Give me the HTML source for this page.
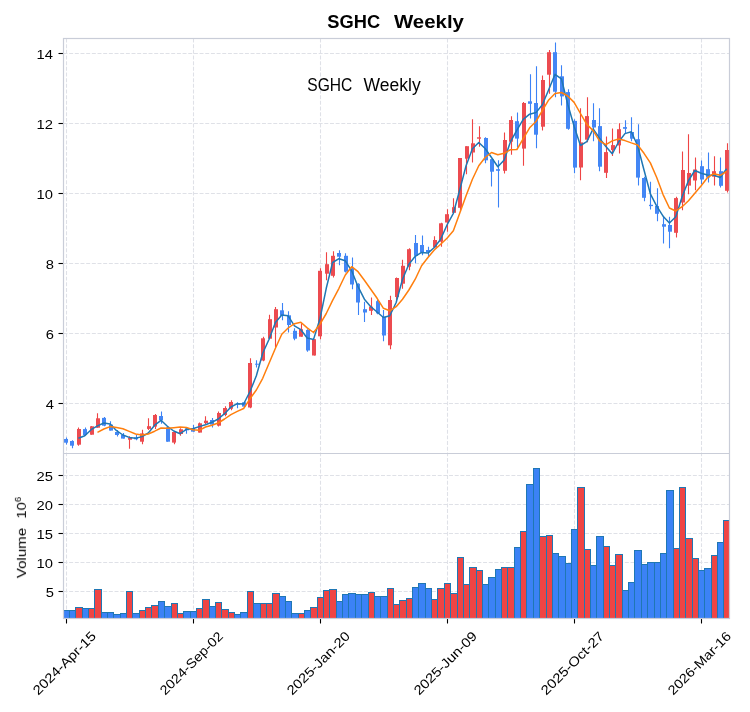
<!DOCTYPE html>
<html><head><meta charset="utf-8"><title>SGHC Weekly</title>
<style>html,body{margin:0;padding:0;background:#fff}svg{display:block}text{font-family:"Liberation Sans",sans-serif;fill:#000}.tx{opacity:0.999}</style></head>
<body>
<svg width="750" height="712" viewBox="0 0 750 712">
<rect x="0" y="0" width="750" height="712" fill="#ffffff"/>
<defs><clipPath id="cm"><rect x="63.5" y="38.5" width="666" height="415"/></clipPath><clipPath id="cv"><rect x="63.5" y="453.5" width="666" height="165"/></clipPath></defs>
<g stroke="#dfe1e7" stroke-width="1.07" stroke-dasharray="3.96 1.71" fill="none"><line x1="63.5" y1="53.5" x2="729.5" y2="53.5"/><line x1="63.5" y1="123.5" x2="729.5" y2="123.5"/><line x1="63.5" y1="193.5" x2="729.5" y2="193.5"/><line x1="63.5" y1="263.5" x2="729.5" y2="263.5"/><line x1="63.5" y1="333.5" x2="729.5" y2="333.5"/><line x1="63.5" y1="403.5" x2="729.5" y2="403.5"/><line x1="63.5" y1="475.5" x2="729.5" y2="475.5"/><line x1="63.5" y1="504.5" x2="729.5" y2="504.5"/><line x1="63.5" y1="533.5" x2="729.5" y2="533.5"/><line x1="63.5" y1="562.5" x2="729.5" y2="562.5"/><line x1="63.5" y1="591.5" x2="729.5" y2="591.5"/><line x1="66.5" y1="38.5" x2="66.5" y2="618.5"/><line x1="193.5" y1="38.5" x2="193.5" y2="618.5"/><line x1="320.5" y1="38.5" x2="320.5" y2="618.5"/><line x1="447.5" y1="38.5" x2="447.5" y2="618.5"/><line x1="574.5" y1="38.5" x2="574.5" y2="618.5"/><line x1="701.5" y1="38.5" x2="701.5" y2="618.5"/></g>
<g clip-path="url(#cv)" stroke="#1f77b4" stroke-width="1"><rect x="63.5" y="610.5" width="6.0" height="11.0" fill="#3b82f6"/><rect x="69.5" y="610.5" width="6.0" height="11.0" fill="#3b82f6"/><rect x="75.5" y="607.5" width="7.0" height="14.0" fill="#ef4444"/><rect x="82.5" y="608.5" width="6.0" height="13.0" fill="#3b82f6"/><rect x="88.5" y="608.5" width="6.0" height="13.0" fill="#ef4444"/><rect x="94.5" y="589.5" width="7.0" height="32.0" fill="#ef4444"/><rect x="101.5" y="612.5" width="6.0" height="9.0" fill="#3b82f6"/><rect x="107.5" y="612.5" width="6.0" height="9.0" fill="#3b82f6"/><rect x="113.5" y="614.5" width="7.0" height="7.0" fill="#3b82f6"/><rect x="120.5" y="613.5" width="6.0" height="8.0" fill="#3b82f6"/><rect x="126.5" y="591.5" width="6.0" height="30.0" fill="#ef4444"/><rect x="132.5" y="613.5" width="7.0" height="8.0" fill="#3b82f6"/><rect x="139.5" y="610.5" width="6.0" height="11.0" fill="#ef4444"/><rect x="145.5" y="607.5" width="6.0" height="14.0" fill="#ef4444"/><rect x="151.5" y="605.5" width="7.0" height="16.0" fill="#ef4444"/><rect x="158.5" y="601.5" width="6.0" height="20.0" fill="#3b82f6"/><rect x="164.5" y="606.5" width="7.0" height="15.0" fill="#3b82f6"/><rect x="171.5" y="603.5" width="6.0" height="18.0" fill="#ef4444"/><rect x="177.5" y="613.5" width="6.0" height="8.0" fill="#ef4444"/><rect x="183.5" y="611.5" width="7.0" height="10.0" fill="#3b82f6"/><rect x="190.5" y="611.5" width="6.0" height="10.0" fill="#3b82f6"/><rect x="196.5" y="608.5" width="6.0" height="13.0" fill="#ef4444"/><rect x="202.5" y="599.5" width="7.0" height="22.0" fill="#ef4444"/><rect x="209.5" y="606.5" width="6.0" height="15.0" fill="#3b82f6"/><rect x="215.5" y="602.5" width="6.0" height="19.0" fill="#ef4444"/><rect x="221.5" y="609.5" width="7.0" height="12.0" fill="#ef4444"/><rect x="228.5" y="612.5" width="6.0" height="9.0" fill="#ef4444"/><rect x="234.5" y="614.5" width="6.0" height="7.0" fill="#3b82f6"/><rect x="240.5" y="612.5" width="7.0" height="9.0" fill="#3b82f6"/><rect x="247.5" y="591.5" width="6.0" height="30.0" fill="#ef4444"/><rect x="253.5" y="603.5" width="7.0" height="18.0" fill="#3b82f6"/><rect x="260.5" y="603.5" width="6.0" height="18.0" fill="#ef4444"/><rect x="266.5" y="603.5" width="6.0" height="18.0" fill="#ef4444"/><rect x="272.5" y="593.5" width="7.0" height="28.0" fill="#ef4444"/><rect x="279.5" y="596.5" width="6.0" height="25.0" fill="#3b82f6"/><rect x="285.5" y="601.5" width="6.0" height="20.0" fill="#3b82f6"/><rect x="291.5" y="613.5" width="7.0" height="8.0" fill="#3b82f6"/><rect x="298.5" y="613.5" width="6.0" height="8.0" fill="#ef4444"/><rect x="304.5" y="610.5" width="6.0" height="11.0" fill="#3b82f6"/><rect x="310.5" y="607.5" width="7.0" height="14.0" fill="#ef4444"/><rect x="317.5" y="597.5" width="6.0" height="24.0" fill="#ef4444"/><rect x="323.5" y="590.5" width="6.0" height="31.0" fill="#ef4444"/><rect x="329.5" y="589.5" width="7.0" height="32.0" fill="#ef4444"/><rect x="336.5" y="601.5" width="6.0" height="20.0" fill="#3b82f6"/><rect x="342.5" y="594.5" width="6.0" height="27.0" fill="#3b82f6"/><rect x="348.5" y="593.5" width="7.0" height="28.0" fill="#3b82f6"/><rect x="355.5" y="594.5" width="6.0" height="27.0" fill="#3b82f6"/><rect x="361.5" y="594.5" width="7.0" height="27.0" fill="#3b82f6"/><rect x="368.5" y="592.5" width="6.0" height="29.0" fill="#ef4444"/><rect x="374.5" y="596.5" width="6.0" height="25.0" fill="#3b82f6"/><rect x="380.5" y="596.5" width="7.0" height="25.0" fill="#3b82f6"/><rect x="387.5" y="588.5" width="6.0" height="33.0" fill="#ef4444"/><rect x="393.5" y="604.5" width="6.0" height="17.0" fill="#ef4444"/><rect x="399.5" y="600.5" width="7.0" height="21.0" fill="#ef4444"/><rect x="406.5" y="598.5" width="6.0" height="23.0" fill="#ef4444"/><rect x="412.5" y="587.5" width="6.0" height="34.0" fill="#3b82f6"/><rect x="418.5" y="583.5" width="7.0" height="38.0" fill="#3b82f6"/><rect x="425.5" y="588.5" width="6.0" height="33.0" fill="#3b82f6"/><rect x="431.5" y="599.5" width="6.0" height="22.0" fill="#ef4444"/><rect x="437.5" y="588.5" width="7.0" height="33.0" fill="#ef4444"/><rect x="444.5" y="583.5" width="6.0" height="38.0" fill="#ef4444"/><rect x="450.5" y="593.5" width="7.0" height="28.0" fill="#ef4444"/><rect x="457.5" y="557.5" width="6.0" height="64.0" fill="#ef4444"/><rect x="463.5" y="584.5" width="6.0" height="37.0" fill="#ef4444"/><rect x="469.5" y="567.5" width="7.0" height="54.0" fill="#ef4444"/><rect x="476.5" y="570.5" width="6.0" height="51.0" fill="#ef4444"/><rect x="482.5" y="584.5" width="6.0" height="37.0" fill="#3b82f6"/><rect x="488.5" y="577.5" width="7.0" height="44.0" fill="#3b82f6"/><rect x="495.5" y="569.5" width="6.0" height="52.0" fill="#3b82f6"/><rect x="501.5" y="567.5" width="6.0" height="54.0" fill="#ef4444"/><rect x="507.5" y="567.5" width="7.0" height="54.0" fill="#ef4444"/><rect x="514.5" y="547.5" width="6.0" height="74.0" fill="#3b82f6"/><rect x="520.5" y="531.5" width="6.0" height="90.0" fill="#ef4444"/><rect x="526.5" y="484.5" width="7.0" height="137.0" fill="#3b82f6"/><rect x="533.5" y="468.5" width="6.0" height="153.0" fill="#3b82f6"/><rect x="539.5" y="536.5" width="7.0" height="85.0" fill="#ef4444"/><rect x="546.5" y="535.5" width="6.0" height="86.0" fill="#ef4444"/><rect x="552.5" y="553.5" width="6.0" height="68.0" fill="#3b82f6"/><rect x="558.5" y="556.5" width="7.0" height="65.0" fill="#3b82f6"/><rect x="565.5" y="563.5" width="6.0" height="58.0" fill="#3b82f6"/><rect x="571.5" y="529.5" width="6.0" height="92.0" fill="#3b82f6"/><rect x="577.5" y="487.5" width="7.0" height="134.0" fill="#ef4444"/><rect x="584.5" y="549.5" width="6.0" height="72.0" fill="#ef4444"/><rect x="590.5" y="565.5" width="6.0" height="56.0" fill="#3b82f6"/><rect x="596.5" y="536.5" width="7.0" height="85.0" fill="#3b82f6"/><rect x="603.5" y="546.5" width="6.0" height="75.0" fill="#ef4444"/><rect x="609.5" y="565.5" width="6.0" height="56.0" fill="#ef4444"/><rect x="615.5" y="554.5" width="7.0" height="67.0" fill="#ef4444"/><rect x="622.5" y="590.5" width="6.0" height="31.0" fill="#3b82f6"/><rect x="628.5" y="582.5" width="6.0" height="39.0" fill="#3b82f6"/><rect x="634.5" y="550.5" width="7.0" height="71.0" fill="#3b82f6"/><rect x="641.5" y="564.5" width="6.0" height="57.0" fill="#3b82f6"/><rect x="647.5" y="562.5" width="7.0" height="59.0" fill="#3b82f6"/><rect x="654.5" y="562.5" width="6.0" height="59.0" fill="#3b82f6"/><rect x="660.5" y="553.5" width="6.0" height="68.0" fill="#3b82f6"/><rect x="666.5" y="490.5" width="7.0" height="131.0" fill="#3b82f6"/><rect x="673.5" y="548.5" width="6.0" height="73.0" fill="#ef4444"/><rect x="679.5" y="487.5" width="6.0" height="134.0" fill="#ef4444"/><rect x="685.5" y="538.5" width="7.0" height="83.0" fill="#ef4444"/><rect x="692.5" y="558.5" width="6.0" height="63.0" fill="#ef4444"/><rect x="698.5" y="570.5" width="6.0" height="51.0" fill="#3b82f6"/><rect x="704.5" y="568.5" width="7.0" height="53.0" fill="#3b82f6"/><rect x="711.5" y="555.5" width="6.0" height="66.0" fill="#ef4444"/><rect x="717.5" y="542.5" width="6.0" height="79.0" fill="#3b82f6"/><rect x="723.5" y="520.5" width="7.0" height="101.0" fill="#ef4444"/></g>
<g clip-path="url(#cm)"><g stroke-width="1.1"><line x1="66.5" y1="437.4" x2="66.5" y2="444.6" stroke="#3b82f6"/><line x1="72.5" y1="440.3" x2="72.5" y2="448.3" stroke="#3b82f6"/><line x1="78.5" y1="427.4" x2="78.5" y2="445.7" stroke="#ef4444"/><line x1="85.5" y1="427.4" x2="85.5" y2="435.7" stroke="#3b82f6"/><line x1="91.5" y1="425.9" x2="91.5" y2="434.7" stroke="#ef4444"/><line x1="97.5" y1="413.3" x2="97.5" y2="427.7" stroke="#ef4444"/><line x1="104.5" y1="417.0" x2="104.5" y2="426.3" stroke="#3b82f6"/><line x1="110.5" y1="421.3" x2="110.5" y2="430.6" stroke="#3b82f6"/><line x1="117.5" y1="430.0" x2="117.5" y2="436.6" stroke="#3b82f6"/><line x1="123.5" y1="433.0" x2="123.5" y2="438.6" stroke="#3b82f6"/><line x1="129.5" y1="436.3" x2="129.5" y2="448.7" stroke="#ef4444"/><line x1="136.5" y1="435.0" x2="136.5" y2="440.3" stroke="#3b82f6"/><line x1="142.5" y1="429.7" x2="142.5" y2="444.3" stroke="#ef4444"/><line x1="148.5" y1="418.3" x2="148.5" y2="430.0" stroke="#ef4444"/><line x1="155.5" y1="414.0" x2="155.5" y2="429.0" stroke="#ef4444"/><line x1="161.5" y1="411.4" x2="161.5" y2="423.7" stroke="#3b82f6"/><line x1="167.5" y1="427.0" x2="167.5" y2="441.7" stroke="#3b82f6"/><line x1="174.5" y1="432.0" x2="174.5" y2="444.3" stroke="#ef4444"/><line x1="180.5" y1="428.3" x2="180.5" y2="435.7" stroke="#ef4444"/><line x1="186.5" y1="428.0" x2="186.5" y2="433.7" stroke="#3b82f6"/><line x1="193.5" y1="425.0" x2="193.5" y2="431.7" stroke="#3b82f6"/><line x1="199.5" y1="422.6" x2="199.5" y2="432.6" stroke="#ef4444"/><line x1="205.5" y1="416.3" x2="205.5" y2="424.3" stroke="#ef4444"/><line x1="212.5" y1="418.0" x2="212.5" y2="427.4" stroke="#3b82f6"/><line x1="218.5" y1="411.4" x2="218.5" y2="426.6" stroke="#ef4444"/><line x1="225.5" y1="406.3" x2="225.5" y2="416.3" stroke="#ef4444"/><line x1="231.5" y1="400.3" x2="231.5" y2="410.3" stroke="#ef4444"/><line x1="237.5" y1="402.3" x2="237.5" y2="408.3" stroke="#3b82f6"/><line x1="244.5" y1="401.7" x2="244.5" y2="407.0" stroke="#3b82f6"/><line x1="250.5" y1="358.3" x2="250.5" y2="408.3" stroke="#ef4444"/><line x1="256.5" y1="360.3" x2="256.5" y2="367.5" stroke="#3b82f6"/><line x1="263.5" y1="336.7" x2="263.5" y2="361.3" stroke="#ef4444"/><line x1="269.5" y1="314.7" x2="269.5" y2="339.2" stroke="#ef4444"/><line x1="275.5" y1="307.0" x2="275.5" y2="347.5" stroke="#ef4444"/><line x1="282.5" y1="303.0" x2="282.5" y2="320.3" stroke="#3b82f6"/><line x1="288.5" y1="311.3" x2="288.5" y2="332.5" stroke="#3b82f6"/><line x1="294.5" y1="328.3" x2="294.5" y2="340.3" stroke="#3b82f6"/><line x1="301.5" y1="323.3" x2="301.5" y2="336.7" stroke="#ef4444"/><line x1="307.5" y1="329.2" x2="307.5" y2="351.7" stroke="#3b82f6"/><line x1="314.5" y1="339.2" x2="314.5" y2="355.5" stroke="#ef4444"/><line x1="320.5" y1="268.3" x2="320.5" y2="339.2" stroke="#ef4444"/><line x1="326.5" y1="252.2" x2="326.5" y2="280.3" stroke="#ef4444"/><line x1="333.5" y1="251.2" x2="333.5" y2="277.5" stroke="#ef4444"/><line x1="339.5" y1="250.3" x2="339.5" y2="265.3" stroke="#3b82f6"/><line x1="345.5" y1="253.3" x2="345.5" y2="272.5" stroke="#3b82f6"/><line x1="352.5" y1="257.5" x2="352.5" y2="289.2" stroke="#3b82f6"/><line x1="358.5" y1="283.3" x2="358.5" y2="315.0" stroke="#3b82f6"/><line x1="364.5" y1="301.7" x2="364.5" y2="322.0" stroke="#3b82f6"/><line x1="371.5" y1="297.5" x2="371.5" y2="315.0" stroke="#ef4444"/><line x1="377.5" y1="300.0" x2="377.5" y2="314.2" stroke="#3b82f6"/><line x1="383.5" y1="310.0" x2="383.5" y2="341.2" stroke="#3b82f6"/><line x1="390.5" y1="295.8" x2="390.5" y2="349.2" stroke="#ef4444"/><line x1="396.5" y1="277.5" x2="396.5" y2="300.0" stroke="#ef4444"/><line x1="402.5" y1="259.7" x2="402.5" y2="288.7" stroke="#ef4444"/><line x1="409.5" y1="248.3" x2="409.5" y2="270.3" stroke="#ef4444"/><line x1="415.5" y1="235.0" x2="415.5" y2="263.3" stroke="#3b82f6"/><line x1="422.5" y1="235.5" x2="422.5" y2="255.3" stroke="#3b82f6"/><line x1="428.5" y1="246.7" x2="428.5" y2="256.7" stroke="#3b82f6"/><line x1="434.5" y1="236.3" x2="434.5" y2="248.3" stroke="#ef4444"/><line x1="441.5" y1="222.8" x2="441.5" y2="246.7" stroke="#ef4444"/><line x1="447.5" y1="209.2" x2="447.5" y2="231.7" stroke="#ef4444"/><line x1="453.5" y1="198.3" x2="453.5" y2="212.8" stroke="#ef4444"/><line x1="460.5" y1="158.0" x2="460.5" y2="211.7" stroke="#ef4444"/><line x1="466.5" y1="146.2" x2="466.5" y2="174.2" stroke="#ef4444"/><line x1="472.5" y1="119.2" x2="472.5" y2="162.5" stroke="#ef4444"/><line x1="479.5" y1="126.3" x2="479.5" y2="146.7" stroke="#ef4444"/><line x1="485.5" y1="137.2" x2="485.5" y2="163.3" stroke="#3b82f6"/><line x1="491.5" y1="159.2" x2="491.5" y2="186.5" stroke="#3b82f6"/><line x1="498.5" y1="160.2" x2="498.5" y2="207.5" stroke="#3b82f6"/><line x1="504.5" y1="132.5" x2="504.5" y2="173.5" stroke="#ef4444"/><line x1="511.5" y1="116.3" x2="511.5" y2="154.7" stroke="#ef4444"/><line x1="517.5" y1="112.4" x2="517.5" y2="147.4" stroke="#3b82f6"/><line x1="523.5" y1="102.0" x2="523.5" y2="165.8" stroke="#ef4444"/><line x1="530.5" y1="74.3" x2="530.5" y2="118.4" stroke="#3b82f6"/><line x1="536.5" y1="66.3" x2="536.5" y2="148.3" stroke="#3b82f6"/><line x1="542.5" y1="75.5" x2="542.5" y2="130.5" stroke="#ef4444"/><line x1="549.5" y1="50.0" x2="549.5" y2="93.8" stroke="#ef4444"/><line x1="555.5" y1="42.5" x2="555.5" y2="97.3" stroke="#3b82f6"/><line x1="561.5" y1="65.2" x2="561.5" y2="105.6" stroke="#3b82f6"/><line x1="568.5" y1="89.3" x2="568.5" y2="129.7" stroke="#3b82f6"/><line x1="574.5" y1="119.2" x2="574.5" y2="173.3" stroke="#3b82f6"/><line x1="580.5" y1="108.2" x2="580.5" y2="180.3" stroke="#ef4444"/><line x1="587.5" y1="97.2" x2="587.5" y2="142.2" stroke="#ef4444"/><line x1="593.5" y1="103.3" x2="593.5" y2="141.2" stroke="#3b82f6"/><line x1="599.5" y1="108.3" x2="599.5" y2="171.3" stroke="#3b82f6"/><line x1="606.5" y1="136.5" x2="606.5" y2="178.0" stroke="#ef4444"/><line x1="612.5" y1="128.4" x2="612.5" y2="156.0" stroke="#ef4444"/><line x1="619.5" y1="123.2" x2="619.5" y2="153.5" stroke="#ef4444"/><line x1="625.5" y1="120.2" x2="625.5" y2="133.0" stroke="#3b82f6"/><line x1="631.5" y1="117.2" x2="631.5" y2="141.2" stroke="#3b82f6"/><line x1="638.5" y1="124.2" x2="638.5" y2="185.4" stroke="#3b82f6"/><line x1="644.5" y1="176.7" x2="644.5" y2="201.3" stroke="#3b82f6"/><line x1="650.5" y1="181.7" x2="650.5" y2="209.4" stroke="#3b82f6"/><line x1="657.5" y1="188.3" x2="657.5" y2="221.3" stroke="#3b82f6"/><line x1="663.5" y1="215.8" x2="663.5" y2="243.5" stroke="#3b82f6"/><line x1="669.5" y1="216.7" x2="669.5" y2="248.3" stroke="#3b82f6"/><line x1="676.5" y1="196.7" x2="676.5" y2="237.5" stroke="#ef4444"/><line x1="682.5" y1="151.5" x2="682.5" y2="210.2" stroke="#ef4444"/><line x1="688.5" y1="134.2" x2="688.5" y2="194.2" stroke="#ef4444"/><line x1="695.5" y1="157.5" x2="695.5" y2="190.3" stroke="#ef4444"/><line x1="701.5" y1="160.5" x2="701.5" y2="184.2" stroke="#3b82f6"/><line x1="708.5" y1="152.5" x2="708.5" y2="182.5" stroke="#3b82f6"/><line x1="714.5" y1="156.3" x2="714.5" y2="185.5" stroke="#ef4444"/><line x1="720.5" y1="157.5" x2="720.5" y2="187.5" stroke="#3b82f6"/><line x1="727.5" y1="143.3" x2="727.5" y2="192.5" stroke="#ef4444"/></g><g><rect x="64" y="439.0" width="4" height="3.7" fill="#4386f5"/><rect x="70" y="441.0" width="4" height="4.7" fill="#4386f5"/><rect x="77" y="429.0" width="4" height="15.7" fill="#ec4b50"/><rect x="83" y="429.1" width="4" height="5.9" fill="#4386f5"/><rect x="90" y="426.3" width="4" height="8.4" fill="#ec4b50"/><rect x="96" y="418.3" width="4" height="9.4" fill="#ec4b50"/><rect x="102" y="417.9" width="4" height="7.8" fill="#4386f5"/><rect x="109" y="424.6" width="4" height="6.0" fill="#4386f5"/><rect x="115" y="432.0" width="4" height="3.0" fill="#4386f5"/><rect x="121" y="435.0" width="4" height="3.6" fill="#4386f5"/><rect x="128" y="438.0" width="4" height="1.7" fill="#ec4b50"/><rect x="134" y="437.4" width="4" height="1.9" fill="#4386f5"/><rect x="140" y="433.4" width="4" height="8.3" fill="#ec4b50"/><rect x="147" y="426.2" width="4" height="2.7" fill="#ec4b50"/><rect x="153" y="415.0" width="4" height="11.6" fill="#ec4b50"/><rect x="159" y="416.0" width="4" height="4.3" fill="#4386f5"/><rect x="166" y="427.4" width="4" height="14.3" fill="#4386f5"/><rect x="172" y="432.0" width="4" height="10.6" fill="#ec4b50"/><rect x="179" y="429.3" width="4" height="4.7" fill="#ec4b50"/><rect x="185" y="428.3" width="4" height="2.0" fill="#4386f5"/><rect x="191" y="428.0" width="4" height="3.7" fill="#4386f5"/><rect x="198" y="423.3" width="4" height="9.3" fill="#ec4b50"/><rect x="204" y="420.7" width="4" height="2.3" fill="#ec4b50"/><rect x="210" y="420.0" width="4" height="4.6" fill="#4386f5"/><rect x="217" y="413.0" width="4" height="12.7" fill="#ec4b50"/><rect x="223" y="408.0" width="4" height="7.0" fill="#ec4b50"/><rect x="229" y="402.0" width="4" height="6.7" fill="#ec4b50"/><rect x="236" y="403.7" width="4" height="1.0" fill="#4386f5"/><rect x="242" y="402.3" width="4" height="4.3" fill="#4386f5"/><rect x="248" y="363.0" width="4" height="44.5" fill="#ec4b50"/><rect x="255" y="363.7" width="4" height="1.0" fill="#4386f5"/><rect x="261" y="338.3" width="4" height="22.2" fill="#ec4b50"/><rect x="268" y="319.2" width="4" height="19.5" fill="#ec4b50"/><rect x="274" y="309.2" width="4" height="18.3" fill="#ec4b50"/><rect x="280" y="310.3" width="4" height="5.5" fill="#4386f5"/><rect x="287" y="315.3" width="4" height="9.7" fill="#4386f5"/><rect x="293" y="330.8" width="4" height="7.9" fill="#4386f5"/><rect x="299" y="329.2" width="4" height="7.5" fill="#ec4b50"/><rect x="306" y="330.0" width="4" height="20.5" fill="#4386f5"/><rect x="312" y="339.2" width="4" height="16.3" fill="#ec4b50"/><rect x="318" y="270.8" width="4" height="65.5" fill="#ec4b50"/><rect x="325" y="264.2" width="4" height="9.5" fill="#ec4b50"/><rect x="331" y="255.8" width="4" height="20.0" fill="#ec4b50"/><rect x="337" y="253.0" width="4" height="3.7" fill="#4386f5"/><rect x="344" y="255.8" width="4" height="15.9" fill="#4386f5"/><rect x="350" y="268.3" width="4" height="16.2" fill="#4386f5"/><rect x="356" y="283.8" width="4" height="18.7" fill="#4386f5"/><rect x="363" y="309.2" width="4" height="3.3" fill="#4386f5"/><rect x="369" y="306.7" width="4" height="4.1" fill="#ec4b50"/><rect x="376" y="301.2" width="4" height="12.1" fill="#4386f5"/><rect x="382" y="316.7" width="4" height="18.8" fill="#4386f5"/><rect x="388" y="300.0" width="4" height="45.3" fill="#ec4b50"/><rect x="395" y="278.0" width="4" height="19.0" fill="#ec4b50"/><rect x="401" y="265.8" width="4" height="17.9" fill="#ec4b50"/><rect x="407" y="249.2" width="4" height="17.5" fill="#ec4b50"/><rect x="414" y="243.0" width="4" height="12.8" fill="#4386f5"/><rect x="420" y="245.0" width="4" height="7.5" fill="#4386f5"/><rect x="426" y="250.0" width="4" height="2.2" fill="#4386f5"/><rect x="433" y="240.0" width="4" height="7.5" fill="#ec4b50"/><rect x="439" y="223.3" width="4" height="18.4" fill="#ec4b50"/><rect x="445" y="214.2" width="4" height="8.3" fill="#ec4b50"/><rect x="452" y="207.2" width="4" height="5.6" fill="#ec4b50"/><rect x="458" y="158.0" width="4" height="49.8" fill="#ec4b50"/><rect x="465" y="146.2" width="4" height="12.5" fill="#ec4b50"/><rect x="471" y="143.3" width="4" height="9.2" fill="#ec4b50"/><rect x="477" y="137.3" width="4" height="1.4" fill="#ec4b50"/><rect x="484" y="138.0" width="4" height="22.3" fill="#4386f5"/><rect x="490" y="159.2" width="4" height="12.5" fill="#4386f5"/><rect x="496" y="169.2" width="4" height="1.6" fill="#4386f5"/><rect x="503" y="140.0" width="4" height="30.8" fill="#ec4b50"/><rect x="509" y="120.0" width="4" height="21.7" fill="#ec4b50"/><rect x="515" y="121.2" width="4" height="17.4" fill="#4386f5"/><rect x="522" y="103.0" width="4" height="45.6" fill="#ec4b50"/><rect x="528" y="101.3" width="4" height="2.5" fill="#4386f5"/><rect x="534" y="103.0" width="4" height="31.7" fill="#4386f5"/><rect x="541" y="80.0" width="4" height="46.7" fill="#ec4b50"/><rect x="547" y="52.2" width="4" height="22.5" fill="#ec4b50"/><rect x="553" y="52.2" width="4" height="39.5" fill="#4386f5"/><rect x="560" y="76.3" width="4" height="20.1" fill="#4386f5"/><rect x="566" y="92.1" width="4" height="36.7" fill="#4386f5"/><rect x="573" y="120.9" width="4" height="46.7" fill="#4386f5"/><rect x="579" y="142.4" width="4" height="25.1" fill="#ec4b50"/><rect x="585" y="116.1" width="4" height="23.6" fill="#ec4b50"/><rect x="592" y="120.0" width="4" height="7.5" fill="#4386f5"/><rect x="598" y="126.1" width="4" height="40.6" fill="#4386f5"/><rect x="604" y="152.1" width="4" height="20.7" fill="#ec4b50"/><rect x="611" y="145.1" width="4" height="4.9" fill="#ec4b50"/><rect x="617" y="129.2" width="4" height="16.2" fill="#ec4b50"/><rect x="623" y="127.1" width="4" height="1.7" fill="#4386f5"/><rect x="630" y="132.0" width="4" height="6.7" fill="#4386f5"/><rect x="636" y="139.2" width="4" height="38.4" fill="#4386f5"/><rect x="642" y="178.0" width="4" height="19.8" fill="#4386f5"/><rect x="649" y="204.8" width="4" height="1.3" fill="#4386f5"/><rect x="655" y="206.0" width="4" height="7.8" fill="#4386f5"/><rect x="662" y="224.2" width="4" height="2.5" fill="#4386f5"/><rect x="668" y="225.0" width="4" height="6.7" fill="#4386f5"/><rect x="674" y="198.1" width="4" height="34.7" fill="#ec4b50"/><rect x="681" y="170.0" width="4" height="32.5" fill="#ec4b50"/><rect x="687" y="173.0" width="4" height="12.6" fill="#ec4b50"/><rect x="693" y="169.5" width="4" height="11.0" fill="#ec4b50"/><rect x="700" y="166.2" width="4" height="13.3" fill="#4386f5"/><rect x="706" y="169.2" width="4" height="8.3" fill="#4386f5"/><rect x="712" y="171.2" width="4" height="5.5" fill="#ec4b50"/><rect x="719" y="171.2" width="4" height="14.6" fill="#4386f5"/><rect x="725" y="150.0" width="4" height="40.8" fill="#ec4b50"/></g>
<polyline points="78.41,438.3 84.77,435.7 91.12,429.7 97.48,425.9 103.83,423.0 110.19,424.0 116.54,430.7 122.90,435.0 129.25,437.4 135.60,438.3 141.96,436.6 148.31,433.0 154.67,425.2 161.03,420.3 167.38,426.3 173.73,431.0 180.09,433.7 186.44,429.3 192.80,428.7 199.16,426.6 205.51,424.7 211.87,422.3 218.22,419.0 224.57,413.7 230.93,407.0 237.28,403.7 243.64,404.0 250.00,391.5 256.35,375.8 262.71,353.3 269.06,339.2 275.42,322.5 281.77,315.0 288.13,315.8 294.48,325.8 300.84,329.7 307.19,338.0 313.55,339.4 319.90,319.0 326.26,288.3 332.61,262.5 338.97,258.7 345.32,260.8 351.68,270.8 358.03,286.7 364.39,299.2 370.74,306.7 377.10,312.0 383.45,317.5 389.81,315.8 396.16,302.5 402.52,279.2 408.87,264.2 415.23,256.3 421.58,252.4 427.94,253.1 434.29,247.5 440.65,239.2 447.00,225.0 453.36,213.3 459.71,190.0 466.06,165.8 472.42,148.7 478.78,142.5 485.13,148.5 491.49,157.5 497.84,166.7 504.19,160.0 510.55,141.6 516.90,130.2 523.26,119.4 529.62,114.2 535.97,112.6 542.33,104.8 548.68,89.7 555.03,74.3 561.39,78.8 567.75,104.3 574.10,126.3 580.45,145.5 586.81,141.7 593.16,128.8 599.52,138.2 605.88,146.5 612.23,153.8 618.58,142.0 624.94,133.6 631.29,131.7 637.65,145.8 644.00,170.0 650.36,193.8 656.71,206.2 663.07,216.2 669.42,223.0 675.78,216.7 682.13,196.7 688.49,180.5 694.85,170.5 701.20,173.3 707.55,175.0 713.91,175.3 720.26,177.5 726.62,168.7" fill="none" stroke="#1f77b4" stroke-width="1.5" stroke-linejoin="round"/>
<polyline points="97.48,432.3 103.83,429.0 110.19,426.6 116.54,427.4 122.90,428.7 129.25,431.4 135.60,434.0 141.96,435.0 148.31,434.0 154.67,431.2 161.03,428.0 167.38,428.3 173.73,427.7 180.09,427.0 186.44,427.4 192.80,429.7 199.16,430.3 205.51,427.0 211.87,425.3 218.22,423.0 224.57,419.0 230.93,414.6 237.28,411.4 243.64,408.5 250.00,398.8 256.35,390.0 262.71,378.3 269.06,363.3 275.42,348.3 281.77,334.2 288.13,328.0 294.48,323.7 300.84,322.2 307.19,327.9 313.55,332.5 319.90,324.4 326.26,313.5 332.61,300.4 338.97,288.3 345.32,275.0 351.68,266.7 358.03,271.7 364.39,280.3 370.74,289.2 377.10,298.3 383.45,308.3 389.81,310.8 396.16,306.7 402.52,299.2 408.87,290.0 415.23,279.2 421.58,265.8 427.94,257.5 434.29,250.0 440.65,244.2 447.00,238.3 453.36,230.8 459.71,213.2 466.06,195.8 472.42,179.2 478.78,165.8 485.13,157.5 491.49,152.5 497.84,154.7 504.19,153.3 510.55,149.7 516.90,149.5 523.26,138.6 529.62,127.8 535.97,121.5 542.33,110.7 548.68,99.9 555.03,93.4 561.39,92.5 567.75,96.0 574.10,102.4 580.45,113.5 586.81,124.4 593.16,130.6 599.52,140.9 605.88,144.7 612.23,140.9 618.58,139.0 624.94,140.6 631.29,142.9 637.65,145.0 644.00,153.3 650.36,162.9 656.71,177.5 663.07,194.6 669.42,208.0 675.78,211.0 682.13,206.7 688.49,200.8 694.85,193.3 701.20,185.8 707.55,177.5 713.91,173.7 720.26,175.3 726.62,171.3" fill="none" stroke="#ff7f0e" stroke-width="1.5" stroke-linejoin="round"/>
</g>
<g stroke="#000" stroke-width="1.1"><line x1="58.5" y1="53.5" x2="63.5" y2="53.5"/><line x1="58.5" y1="123.5" x2="63.5" y2="123.5"/><line x1="58.5" y1="193.5" x2="63.5" y2="193.5"/><line x1="58.5" y1="263.5" x2="63.5" y2="263.5"/><line x1="58.5" y1="333.5" x2="63.5" y2="333.5"/><line x1="58.5" y1="403.5" x2="63.5" y2="403.5"/><line x1="58.5" y1="475.5" x2="63.5" y2="475.5"/><line x1="58.5" y1="504.5" x2="63.5" y2="504.5"/><line x1="58.5" y1="533.5" x2="63.5" y2="533.5"/><line x1="58.5" y1="562.5" x2="63.5" y2="562.5"/><line x1="58.5" y1="591.5" x2="63.5" y2="591.5"/><line x1="66.5" y1="618.5" x2="66.5" y2="623.5"/><line x1="193.5" y1="618.5" x2="193.5" y2="623.5"/><line x1="320.5" y1="618.5" x2="320.5" y2="623.5"/><line x1="447.5" y1="618.5" x2="447.5" y2="623.5"/><line x1="574.5" y1="618.5" x2="574.5" y2="623.5"/><line x1="701.5" y1="618.5" x2="701.5" y2="623.5"/></g>
<g stroke="#c9cdd8" stroke-width="1.2" fill="none"><rect x="63.5" y="38.5" width="666" height="580"/><line x1="63.5" y1="453.5" x2="729.5" y2="453.5"/></g>
<g class="tx">
<text x="36.5" y="58.9" font-size="13.2" textLength="16.4" lengthAdjust="spacingAndGlyphs">14</text>
<text x="36.5" y="128.9" font-size="13.2" textLength="16.4" lengthAdjust="spacingAndGlyphs">12</text>
<text x="36.5" y="198.9" font-size="13.2" textLength="16.4" lengthAdjust="spacingAndGlyphs">10</text>
<text x="45.8" y="268.9" font-size="13.2" textLength="8.2" lengthAdjust="spacingAndGlyphs">8</text>
<text x="45.8" y="338.9" font-size="13.2" textLength="8.2" lengthAdjust="spacingAndGlyphs">6</text>
<text x="45.8" y="408.9" font-size="13.2" textLength="8.2" lengthAdjust="spacingAndGlyphs">4</text>
<text x="36.5" y="480.9" font-size="13.2" textLength="16.4" lengthAdjust="spacingAndGlyphs">25</text>
<text x="36.5" y="509.9" font-size="13.2" textLength="16.4" lengthAdjust="spacingAndGlyphs">20</text>
<text x="36.5" y="538.9" font-size="13.2" textLength="16.4" lengthAdjust="spacingAndGlyphs">15</text>
<text x="36.5" y="567.9" font-size="13.2" textLength="16.4" lengthAdjust="spacingAndGlyphs">10</text>
<text x="45.8" y="596.9" font-size="13.2" textLength="8.2" lengthAdjust="spacingAndGlyphs">5</text>
<g transform="translate(25.9,578.2) rotate(-90)"><text x="0" y="0" font-size="13.2" textLength="50.3" lengthAdjust="spacingAndGlyphs">Volume</text><text x="59.6" y="0" font-size="13.2" textLength="16.4" lengthAdjust="spacingAndGlyphs">10</text><text x="76" y="-5.2" font-size="9.6">6</text></g>
<text transform="translate(96.9,637) rotate(-45)" font-size="13.2" text-anchor="end" textLength="83" lengthAdjust="spacingAndGlyphs">2024-Apr-15</text>
<text transform="translate(223.9,637) rotate(-45)" font-size="13.2" text-anchor="end" textLength="83" lengthAdjust="spacingAndGlyphs">2024-Sep-02</text>
<text transform="translate(350.9,637) rotate(-45)" font-size="13.2" text-anchor="end" textLength="83" lengthAdjust="spacingAndGlyphs">2025-Jan-20</text>
<text transform="translate(477.9,637) rotate(-45)" font-size="13.2" text-anchor="end" textLength="83" lengthAdjust="spacingAndGlyphs">2025-Jun-09</text>
<text transform="translate(604.9,637) rotate(-45)" font-size="13.2" text-anchor="end" textLength="83" lengthAdjust="spacingAndGlyphs">2025-Oct-27</text>
<text transform="translate(731.9,637) rotate(-45)" font-size="13.2" text-anchor="end" textLength="83" lengthAdjust="spacingAndGlyphs">2026-Mar-16</text>
<text x="327.3" y="27.7" font-size="18.2" font-weight="bold" textLength="52.8" lengthAdjust="spacingAndGlyphs">SGHC</text>
<text x="394" y="27.7" font-size="18.2" font-weight="bold" textLength="69.9" lengthAdjust="spacingAndGlyphs">Weekly</text>
<text x="307.3" y="91.3" font-size="17.6" textLength="45.1" lengthAdjust="spacingAndGlyphs">SGHC</text>
<text x="363.6" y="91.3" font-size="17.6" textLength="57.1" lengthAdjust="spacingAndGlyphs">Weekly</text>
</g>
</svg>
</body></html>
